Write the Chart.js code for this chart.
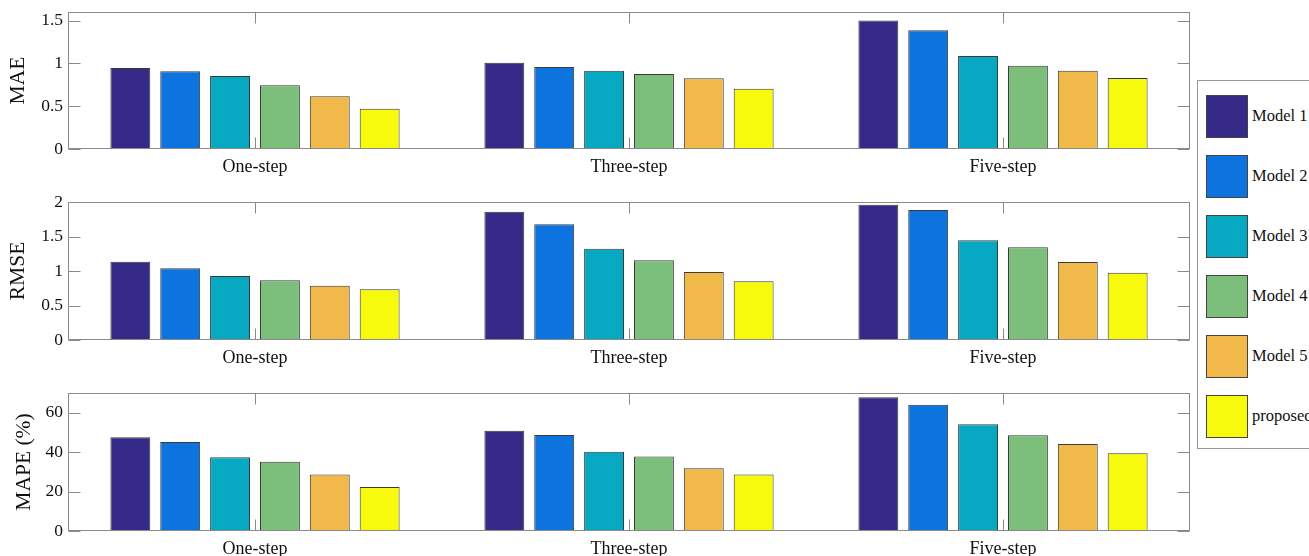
<!DOCTYPE html>
<html>
<head>
<meta charset="utf-8">
<script src="https://cdn.jsdelivr.net/npm/chart.js@4.4.0/dist/chart.umd.min.js"></script>
<style>
  html, body { margin: 0; padding: 0; background: #fff; overflow: hidden; }
  body { width: 1309px; height: 556px; position: relative; font-family: "Liberation Serif", serif; }
  canvas { position: absolute; left: 0; }
  #legend { position: absolute; left: 1197px; top: 80px; width: 140px; height: 369px; border: 1px solid #999; box-sizing: border-box; }
  .item { position: absolute; left: 8px; height: 43px; white-space: nowrap; }
  .sw { position: absolute; left: 0; top: 0; width: 42px; height: 43px; box-sizing: border-box; border: 1px solid #444; }
  .lb { position: absolute; left: 46px; top: 11px; font-size: 16.5px; color: #111; }
</style>
</head>
<body>
<canvas id="c1" width="1192" height="190" style="top:0px"></canvas>
<canvas id="c2" width="1192" height="190" style="top:190px"></canvas>
<canvas id="c3" width="1192" height="176" style="top:380px"></canvas>
<div id="legend"></div>
<script>
const categories = ["One-step", "Three-step", "Five-step"];
const models = ["Model 1", "Model 2", "Model 3", "Model 4", "Model 5", "proposed"];
const colors = ["#352a87", "#0d73de", "#06a9c1", "#7cbf7b", "#f1b94a", "#f8fa0d"];

// values per step, one entry per model
const maeOne = [0.945, 0.907, 0.852, 0.744, 0.616, 0.469];
const maeThree = [1.008, 0.957, 0.915, 0.876, 0.826, 0.705];
const maeFive = [1.50, 1.387, 1.085, 0.973, 0.915, 0.83];

const rmseOne = [1.135, 1.039, 0.928, 0.865, 0.787, 0.735];
const rmseThree = [1.86, 1.676, 1.323, 1.155, 0.986, 0.85];
const rmseFive = [1.961, 1.884, 1.445, 1.343, 1.13, 0.976];

const mapeOne = [47.5, 45.1, 37.4, 35.1, 28.6, 22.3];
const mapeThree = [50.8, 48.7, 40.2, 37.8, 31.8, 28.7];
const mapeFive = [67.9, 64.1, 54.2, 48.6, 44.1, 39.5];

const axisColor = "#8a8a8a";

// matlab style box with inward ticks
const boxPlugin = {
  id: "box",
  afterDatasetsDraw(chart) {
    const { ctx, chartArea: a, scales: { x, y } } = chart;
    ctx.save();
    ctx.strokeStyle = axisColor;
    ctx.lineWidth = 1;
    const L = Math.round(a.left) + 0.5, R = Math.round(a.right) - 0.5;
    const T = Math.round(a.top) + 0.5, B = Math.round(a.bottom) - 0.5;
    ctx.strokeRect(L, T, R - L, B - T);
    ctx.beginPath();
    x.ticks.forEach((t, i) => {
      const px = Math.round(x.getPixelForTick(i)) + 0.5;
      ctx.moveTo(px, B); ctx.lineTo(px, B - 11);
      ctx.moveTo(px, T); ctx.lineTo(px, T + 11);
    });
    y.ticks.forEach((t, i) => {
      const py = Math.round(y.getPixelForTick(i)) + 0.5;
      ctx.moveTo(L, py); ctx.lineTo(L + 12, py);
      ctx.moveTo(R, py); ctx.lineTo(R - 12, py);
    });
    ctx.stroke();
    ctx.restore();
  }
};

function makeChart(id, title, rows, max, step, padTop, xHeight, titlePad) {
  const datasets = models.map((m, i) => ({
    label: m,
    data: rows.map(r => r[i]),
    backgroundColor: colors[i],
    borderColor: "#3a3a3a",
    borderWidth: 1,
    borderSkipped: false,
    categoryPercentage: 0.8,
    barPercentage: 0.8,
  }));
  return new Chart(document.getElementById(id), {
    type: "bar",
    data: { labels: categories, datasets: datasets },
    options: {
      responsive: false,
      animation: false,
      layout: { padding: { top: padTop, right: 2, left: 0, bottom: 0 } },
      plugins: { legend: { display: false }, tooltip: { enabled: false } },
      scales: {
        x: {
          grid: { display: false, drawTicks: false },
          border: { display: false },
          ticks: { color: "#111", padding: 7, font: { family: "Liberation Serif", size: 18 } },
          afterFit(scale) { scale.height = xHeight; scale.paddingLeft = 0; scale.paddingRight = 0; },
        },
        y: {
          min: 0,
          max: max,
          grid: { display: false, drawTicks: false },
          border: { display: false },
          ticks: { stepSize: step, includeBounds: false, color: "#111", padding: 5,
                   callback: v => String(+v.toFixed(2)),
                   font: { family: "Liberation Serif", size: 17.5 } },
          title: { display: true, text: title, color: "#111", padding: { top: titlePad },
                   font: { family: "Liberation Serif", size: 21.5 } },
          afterFit(scale) { scale.width = 68; scale.paddingTop = 0; scale.paddingBottom = 0; },
        },
      },
    },
    plugins: [boxPlugin],
  });
}

makeChart("c1", "MAE", [maeOne, maeThree, maeFive], 1.6, 0.5, 12, 41, 5);
makeChart("c2", "RMSE", [rmseOne, rmseThree, rmseFive], 2, 0.5, 12, 40, 5);
makeChart("c3", "MAPE (%)", [mapeOne, mapeThree, mapeFive], 70, 20, 13, 25, 11);

const legend = document.getElementById("legend");
models.forEach((m, i) => {
  const item = document.createElement("div");
  item.className = "item";
  item.style.top = (14 + i * 60) + "px";
  const sw = document.createElement("div");
  sw.className = "sw";
  sw.style.background = colors[i];
  const lb = document.createElement("div");
  lb.className = "lb";
  lb.textContent = m;
  item.appendChild(sw);
  item.appendChild(lb);
  legend.appendChild(item);
});
</script>
</body>
</html>
